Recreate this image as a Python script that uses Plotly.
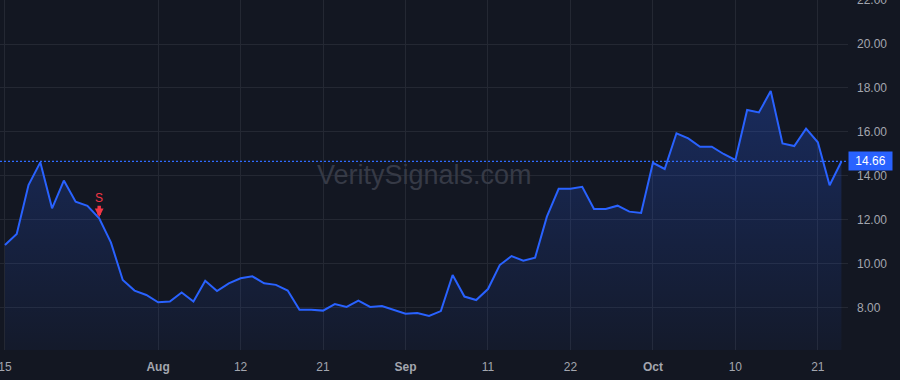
import plotly.graph_objects as go

dates = [
    "2025-07-15", "2025-07-16", "2025-07-17", "2025-07-18",
    "2025-07-21", "2025-07-22", "2025-07-23", "2025-07-24", "2025-07-25",
    "2025-07-28", "2025-07-29", "2025-07-30", "2025-07-31", "2025-08-01",
    "2025-08-04", "2025-08-05", "2025-08-06", "2025-08-07", "2025-08-08",
    "2025-08-11", "2025-08-12", "2025-08-13", "2025-08-14", "2025-08-15",
    "2025-08-18", "2025-08-19", "2025-08-20", "2025-08-21", "2025-08-22",
    "2025-08-25", "2025-08-26", "2025-08-27", "2025-08-28", "2025-08-29",
    "2025-09-02", "2025-09-03", "2025-09-04", "2025-09-05",
    "2025-09-08", "2025-09-09", "2025-09-10", "2025-09-11", "2025-09-12",
    "2025-09-15", "2025-09-16", "2025-09-17", "2025-09-18", "2025-09-19",
    "2025-09-22", "2025-09-23", "2025-09-24", "2025-09-25", "2025-09-26",
    "2025-09-29", "2025-09-30", "2025-10-01", "2025-10-02", "2025-10-03",
    "2025-10-06", "2025-10-07", "2025-10-08", "2025-10-09", "2025-10-10",
    "2025-10-13", "2025-10-14", "2025-10-15", "2025-10-16", "2025-10-17",
    "2025-10-20", "2025-10-21", "2025-10-22", "2025-10-23",
]

close = [
    10.86, 11.36, 13.59, 14.62, 12.53, 13.79, 12.83, 12.64, 12.08, 10.97,
    9.27, 8.79, 8.59, 8.26, 8.29, 8.70, 8.29, 9.24, 8.77, 9.12,
    9.35, 9.44, 9.12, 9.05, 8.79, 7.92, 7.92, 7.88, 8.18, 8.05,
    8.33, 8.05, 8.09, 7.91, 7.74, 7.77, 7.64, 7.86, 9.50, 8.52,
    8.36, 8.86, 9.95, 10.36, 10.15, 10.29, 12.15, 13.42, 13.42, 13.51,
    12.50, 12.50, 12.65, 12.38, 12.32, 14.60, 14.32, 15.94, 15.71, 15.33,
    15.33, 15.00, 14.73, 17.00, 16.89, 17.86, 15.48, 15.36, 16.15, 15.53,
    13.58, 14.66,
]

x_tick_vals = ["2025-07-15", "2025-08-01", "2025-08-12", "2025-08-21", "2025-09-02",
               "2025-09-11", "2025-09-22", "2025-10-01", "2025-10-10", "2025-10-21"]
x_tick_text = ["15", "<b>Aug</b>", "12", "21", "<b>Sep</b>",
               "11", "22", "<b>Oct</b>", "10", "21"]

y_tick_vals = [8, 10, 12, 14, 16, 18, 20, 22]
y_tick_text = ["8.00", "10.00", "12.00", "14.00", "16.00", "18.00", "20.00", "22.00"]

signal_dates = ["2025-07-25"]
signal_labels = ["S"]

last_price = close[-1]
watermark = "VeritySignals.com"

BG = "#131722"
GRID = "#242833"
LINE = "#2962ff"
TXT = "#a3a6af"
RED = "#f23645"
FONT = "Liberation Sans, Arial, sans-serif"

fig = go.Figure()
fig.add_trace(go.Scatter(
    x=dates, y=close, mode="lines",
    line=dict(color=LINE, width=2),
    fill="tozeroy",
    fillgradient=dict(
        type="vertical",
        colorscale=[[0, "rgba(41,98,255,0.04)"], [1, "rgba(41,98,255,0.27)"]],
        start=6, stop=18,
    ),
    hoverinfo="skip", showlegend=False,
))

fig.add_shape(type="line", xref="paper", x0=0, x1=1, yref="y",
              y0=last_price, y1=last_price,
              line=dict(color="#2f6bff", width=1.3, dash="2px,2px"))

for d, lab in zip(signal_dates, signal_labels):
    v = close[dates.index(d)]
    fig.add_annotation(x=d, y=v, xref="x", yref="y", text=lab,
                       showarrow=True, ax=0, ay=-20,
                       arrowcolor=RED, arrowwidth=3.5, arrowhead=2, arrowsize=0.5,
                       standoff=1, borderpad=0,
                       font=dict(color=RED, size=12, family=FONT))

fig.add_annotation(x=0.5, y=0.5, xref="paper", yref="paper", text=watermark,
                   showarrow=False, font=dict(color="#363a46", size=27, family=FONT))

fig.add_annotation(x=1, y=last_price, xref="paper", yref="y", xanchor="left",
                   text=f"{last_price:.2f}", showarrow=False,
                   bgcolor=LINE, width=41, height=16, borderpad=1,
                   font=dict(color="#ffffff", size=12, family=FONT))

fig.update_layout(
    width=900, height=380,
    margin=dict(l=0, r=52, t=0, b=30, autoexpand=False),
    paper_bgcolor=BG, plot_bgcolor=BG,
    font=dict(family=FONT, size=12, color=TXT),
    xaxis=dict(type="category", range=[-0.42, 71.56],
               tickvals=x_tick_vals, ticktext=x_tick_text,
               showgrid=True, gridcolor=GRID, gridwidth=1,
               zeroline=False, showline=False, ticks="",
               ticklabelstandoff=8, automargin=False,
               tickfont=dict(size=12, color=TXT, family=FONT)),
    yaxis=dict(side="right", range=[6.09, 22],
               tickvals=y_tick_vals, ticktext=y_tick_text,
               showgrid=True, gridcolor=GRID, gridwidth=1,
               zeroline=False, showline=False, ticks="",
               ticklabelstandoff=8, ticklabeloverflow="allow", automargin=False,
               tickfont=dict(size=12, color=TXT, family=FONT)),
)

fig.write_html("out.html")
